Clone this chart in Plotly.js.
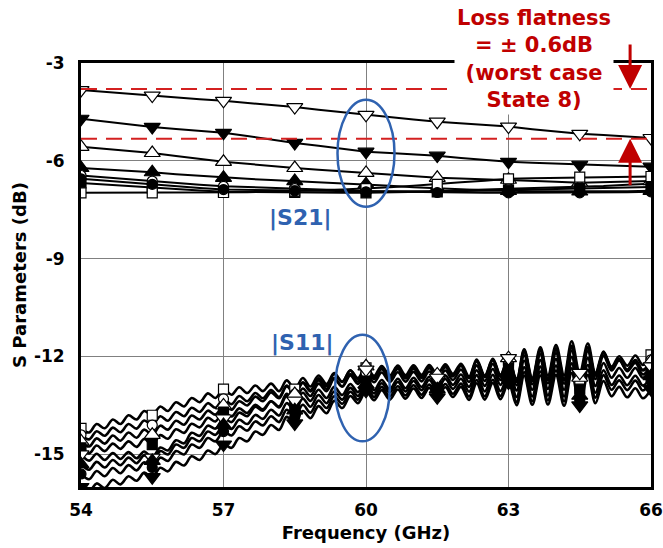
<!DOCTYPE html>
<html>
<head>
<meta charset="utf-8">
<script src="https://cdn.plot.ly/plotly-3.0.1.min.js"></script>
<style>html,body{margin:0;padding:0;background:#fff;}#chart{width:663px;height:548px;}</style>
</head>
<body>
<div id="chart"></div>
<script>
// ---------------- DATA ----------------
const freqS21 = [54,54.5,55,55.5,56,56.5,57,57.5,58,58.5,59,59.5,60,60.5,61,61.5,62,62.5,63,63.5,64,64.5,65,65.5,66];

const s21State1 = [-3.83,-3.89,-3.95,-4.00,-4.06,-4.11,-4.16,-4.22,-4.28,-4.35,-4.43,-4.51,-4.59,-4.67,-4.73,-4.80,-4.85,-4.91,-4.95,-5.03,-5.10,-5.17,-5.21,-5.26,-5.30];
const s21State2 = [-4.71,-4.80,-4.88,-4.96,-5.02,-5.08,-5.14,-5.24,-5.35,-5.45,-5.54,-5.63,-5.72,-5.76,-5.80,-5.84,-5.91,-5.97,-6.03,-6.06,-6.09,-6.12,-6.14,-6.16,-6.18];
const s21State3 = [-5.57,-5.63,-5.70,-5.76,-5.85,-5.94,-6.03,-6.09,-6.16,-6.22,-6.27,-6.32,-6.37,-6.42,-6.47,-6.52,-6.54,-6.56,-6.58,-6.61,-6.64,-6.67,-6.65,-6.64,-6.62];
const s21State4 = [-6.22,-6.26,-6.31,-6.35,-6.41,-6.46,-6.52,-6.55,-6.59,-6.62,-6.65,-6.69,-6.72,-6.76,-6.81,-6.85,-6.87,-6.90,-6.92,-6.93,-6.93,-6.94,-6.93,-6.93,-6.92];
const s21State5 = [-6.45,-6.51,-6.56,-6.62,-6.67,-6.73,-6.78,-6.80,-6.83,-6.85,-6.88,-6.90,-6.93,-6.93,-6.93,-6.93,-6.90,-6.88,-6.85,-6.83,-6.82,-6.80,-6.77,-6.73,-6.70];
const s21State6 = [-6.68,-6.73,-6.78,-6.83,-6.87,-6.91,-6.95,-6.96,-6.96,-6.97,-6.97,-6.98,-6.98,-6.97,-6.96,-6.95,-6.93,-6.92,-6.90,-6.88,-6.87,-6.85,-6.83,-6.82,-6.80];
const s21State7 = [-6.98,-6.98,-6.98,-6.98,-6.98,-6.97,-6.97,-6.96,-6.94,-6.93,-6.90,-6.88,-6.85,-6.81,-6.76,-6.72,-6.66,-6.61,-6.55,-6.53,-6.52,-6.50,-6.49,-6.49,-6.48];
const s21State8 = [-6.55,-6.61,-6.66,-6.72,-6.77,-6.83,-6.88,-6.89,-6.91,-6.92,-6.93,-6.94,-6.95,-6.96,-6.96,-6.97,-6.97,-6.98,-6.98,-6.98,-6.98,-6.98,-6.97,-6.96,-6.95];

const freqS11 = [54,54.17,54.33,54.5,54.67,54.83,
  55,55.17,55.33,55.5,55.67,55.83,
  56,56.17,56.33,56.5,56.67,56.83,
  57,57.17,57.33,57.5,57.67,57.83,
  58,58.17,58.33,58.5,58.67,58.83,
  59,59.17,59.33,59.5,59.67,59.83,
  60,60.17,60.33,60.5,60.67,60.83,
  61,61.17,61.33,61.5,61.67,61.83,
  62,62.17,62.33,62.5,62.67,62.83,
  63,63.17,63.33,63.5,63.67,63.83,
  64,64.17,64.33,64.5,64.67,64.83,
  65,65.17,65.33,65.5,65.67,65.83,66];

const s11StateA = [-14.20,-14.33,-14.07,-14.20,-13.93,-14.07,-13.80,-13.93,-13.67,-13.80,
  -13.53,-13.67,-13.40,-13.53,-13.27,-13.40,-13.13,-13.27,-13.00,
  -13.17,-12.94,-13.12,-12.89,-13.06,-12.83,-13.06,-12.73,-13.00,
  -12.66,-12.92,-12.58,-12.84,-12.51,-12.77,-12.43,-12.69,-12.35,
  -12.64,-12.34,-12.63,-12.33,-12.62,-12.32,-12.61,-12.31,-12.60,
  -12.29,-12.58,-12.27,-12.66,-12.14,-12.63,-12.12,-12.61,-12.10,
  -12.78,-11.87,-12.75,-11.83,-12.72,-11.80,-12.73,-11.72,-12.70,
  -11.74,-12.58,-11.87,-12.31,-11.99,-12.28,-11.97,-12.26,-11.95];
const s11StateB = [-14.40,-14.54,-14.29,-14.43,-14.18,-14.32,-14.07,-14.21,-13.96,-14.10,
  -13.83,-13.97,-13.70,-13.83,-13.57,-13.70,-13.43,-13.57,-13.30,
  -13.46,-13.21,-13.37,-13.12,-13.28,-13.03,-13.24,-12.89,-13.15,
  -12.81,-13.07,-12.73,-12.99,-12.66,-12.92,-12.58,-12.84,-12.50,
  -12.79,-12.49,-12.78,-12.48,-12.77,-12.47,-12.76,-12.46,-12.75,
  -12.43,-12.72,-12.40,-12.78,-12.27,-12.75,-12.23,-12.72,-12.20,
  -12.88,-11.97,-12.85,-11.93,-12.82,-11.90,-12.83,-11.82,-12.80,
  -11.84,-12.69,-11.98,-12.43,-12.12,-12.42,-12.11,-12.41,-12.10];
const s11StateC = [-14.60,-14.76,-14.51,-14.67,-14.42,-14.58,-14.33,-14.49,-14.24,-14.40,
  -14.12,-14.24,-13.97,-14.09,-13.81,-13.93,-13.66,-13.78,-13.50,
  -13.63,-13.37,-13.50,-13.23,-13.37,-13.10,-13.28,-12.92,-13.15,
  -12.79,-13.03,-12.67,-12.91,-12.54,-12.78,-12.42,-12.66,-12.30,
  -12.59,-12.29,-12.58,-12.28,-12.57,-12.27,-12.56,-12.26,-12.55,
  -12.24,-12.53,-12.22,-12.61,-12.09,-12.58,-12.07,-12.56,-12.05,
  -12.73,-11.82,-12.70,-11.78,-12.67,-11.75,-12.68,-11.67,-12.65,
  -11.72,-12.58,-11.90,-12.37,-12.08,-12.40,-12.12,-12.43,-12.15];
const s11StateD = [-14.80,-14.97,-14.73,-14.90,-14.67,-14.83,-14.60,-14.77,-14.53,-14.70,
  -14.41,-14.52,-14.23,-14.34,-14.06,-14.17,-13.88,-13.99,-13.70,
  -13.84,-13.59,-13.73,-13.48,-13.62,-13.37,-13.56,-13.21,-13.45,
  -13.11,-13.36,-13.02,-13.27,-12.93,-13.18,-12.84,-13.09,-12.75,
  -13.03,-12.72,-13.00,-12.68,-12.97,-12.65,-12.93,-12.62,-12.90,
  -12.58,-12.87,-12.55,-12.93,-12.42,-12.90,-12.38,-12.87,-12.35,
  -13.04,-12.13,-13.02,-12.11,-12.99,-12.08,-13.02,-12.01,-13.00,
  -12.05,-12.90,-12.20,-12.65,-12.35,-12.65,-12.35,-12.65,-12.35];
const s11StateE = [-15.00,-15.19,-14.98,-15.17,-14.96,-15.14,-14.93,-15.12,-14.91,-15.10,
  -14.79,-14.88,-14.57,-14.66,-14.34,-14.43,-14.12,-14.21,-13.90,
  -14.01,-13.72,-13.83,-13.54,-13.66,-13.37,-13.53,-13.14,-13.35,
  -12.98,-13.21,-12.83,-13.06,-12.69,-12.92,-12.54,-12.77,-12.40,
  -12.69,-12.39,-12.68,-12.38,-12.67,-12.37,-12.66,-12.36,-12.65,
  -12.33,-12.61,-12.28,-12.66,-12.14,-12.62,-12.09,-12.57,-12.05,
  -12.72,-11.78,-12.65,-11.72,-12.58,-11.65,-12.57,-11.53,-12.50,
  -11.60,-12.50,-11.85,-12.35,-12.10,-12.45,-12.20,-12.55,-12.30];
const s11StateF = [-15.30,-15.47,-15.23,-15.40,-15.17,-15.33,-15.10,-15.27,-15.03,-15.20,
  -14.90,-15.00,-14.70,-14.80,-14.50,-14.60,-14.30,-14.40,-14.10,
  -14.22,-13.94,-14.07,-13.79,-13.91,-13.63,-13.81,-13.43,-13.65,
  -13.29,-13.54,-13.18,-13.43,-13.07,-13.32,-12.96,-13.21,-12.85,
  -13.13,-12.82,-13.10,-12.78,-13.07,-12.75,-13.03,-12.72,-13.00,
  -12.69,-12.99,-12.68,-13.08,-12.57,-13.07,-12.56,-13.06,-12.55,
  -13.24,-12.33,-13.22,-12.31,-13.19,-12.28,-13.22,-12.21,-13.20,
  -12.26,-13.11,-12.42,-12.87,-12.58,-12.88,-12.59,-12.89,-12.60];
const s11StateG = [-15.60,-15.76,-15.51,-15.67,-15.42,-15.58,-15.33,-15.49,-15.24,-15.40,
  -15.10,-15.20,-14.90,-15.00,-14.70,-14.80,-14.50,-14.60,-14.30,
  -14.42,-14.14,-14.27,-13.99,-14.11,-13.83,-14.01,-13.63,-13.85,
  -13.48,-13.72,-13.35,-13.58,-13.22,-13.45,-13.08,-13.32,-12.95,
  -13.24,-12.93,-13.22,-12.91,-13.19,-12.88,-13.17,-12.86,-13.15,
  -12.84,-13.14,-12.83,-13.23,-12.72,-13.22,-12.71,-13.21,-12.70,
  -13.39,-12.48,-13.37,-12.46,-13.34,-12.43,-13.37,-12.36,-13.35,
  -12.41,-13.26,-12.57,-13.02,-12.73,-13.03,-12.74,-13.04,-12.75];
const s11StateH = [-16.00,-16.14,-15.89,-16.03,-15.78,-15.92,-15.67,-15.81,-15.56,-15.70,
  -15.41,-15.52,-15.23,-15.34,-15.06,-15.17,-14.88,-14.99,-14.70,
  -14.80,-14.50,-14.60,-14.30,-14.40,-14.10,-14.25,-13.85,-14.05,
  -13.67,-13.89,-13.52,-13.74,-13.36,-13.58,-13.21,-13.43,-13.05,
  -13.34,-13.03,-13.32,-13.01,-13.29,-12.98,-13.27,-12.96,-13.25,
  -12.94,-13.24,-12.93,-13.33,-12.82,-13.32,-12.81,-13.31,-12.80,
  -13.49,-12.59,-13.48,-12.58,-13.47,-12.57,-13.51,-12.51,-13.50,
  -12.57,-13.43,-12.75,-13.22,-12.93,-13.25,-12.97,-13.28,-13.00];

const xTicks = [54,57,60,63,66];
const yTicks = [-3,-6,-9,-12,-15];
const flatnessLevels = [-3.80,-5.32];
const annotationText = 'Loss flatness<br>= ± 0.6dB<br>(worst case<br>State 8)';

// ---------------- STYLES ----------------
const s21Series = [s21State1,s21State2,s21State3,s21State4,s21State5,s21State6,s21State7,s21State8];
const s11Series = [s11StateA,s11StateB,s11StateC,s11StateD,s11StateE,s11StateF,s11StateG,s11StateH];
const s21Sym  = ['triangle-down','triangle-down','triangle-up','triangle-up','circle','square','square','circle'];
const s21Fill = ['#fff','#000','#fff','#000','#fff','#000','#fff','#000'];
const s11Sym  = ['square','circle','triangle-up','square','triangle-down','triangle-up','circle','triangle-down'];
const s11Fill = ['#fff','#fff','#fff','#000','#fff','#000','#000','#000'];
const symSize = s => (s.startsWith('triangle') ? 14 : 10);

const traces = [];
s11Series.forEach(y => traces.push({x: freqS11, y: y, mode: 'lines', type: 'scatter',
  line: {color: '#000', width: 2.6, shape: 'spline', smoothing: 1}, hoverinfo: 'skip', showlegend: false}));
s21Series.forEach(y => traces.push({x: freqS21, y: y, mode: 'lines', type: 'scatter',
  line: {color: '#000', width: 2}, hoverinfo: 'skip', showlegend: false}));
s11Series.forEach((y, k) => {
  const idx = freqS11.map((_, i) => i).filter(i => i % 9 === 0);
  traces.push({x: idx.map(i => freqS11[i]), y: idx.map(i => y[i]), mode: 'markers', type: 'scatter',
    marker: {symbol: s11Sym[k], size: symSize(s11Sym[k]), color: s11Fill[k], line: {color: '#000', width: 1.2}},
    cliponaxis: true, showlegend: false, hoverinfo: 'skip'});
});
s21Series.forEach((y, k) => {
  const idx = freqS21.map((_, i) => i).filter(i => i % 3 === 0);
  traces.push({x: idx.map(i => freqS21[i]), y: idx.map(i => y[i]), mode: 'markers', type: 'scatter',
    marker: {symbol: s21Sym[k], size: symSize(s21Sym[k]), color: s21Fill[k], line: {color: '#000', width: 1.2}},
    cliponaxis: true, showlegend: false, hoverinfo: 'skip'});
});

const red = '#C00000';
const blue = '#2F62B0';
const font = 'DejaVu Sans, Verdana, sans-serif';

const layout = {
  width: 663, height: 548,
  margin: {l: 81, r: 12, t: 63, b: 61},
  paper_bgcolor: '#fff', plot_bgcolor: '#fff',
  showlegend: false,
  xaxis: {
    range: [54, 66], tickvals: xTicks, ticktext: xTicks.map(String),
    showgrid: true, gridcolor: '#808080', gridwidth: 1, zeroline: false,
    showline: true, linecolor: '#000', linewidth: 3, mirror: true, ticks: '',
    ticklabelstandoff: 6,
    tickfont: {family: font, size: 17, color: '#000', weight: 'bold'},
    title: {text: 'Frequency (GHz)', font: {family: font, size: 18, color: '#000', weight: 'bold'}, standoff: 7}
  },
  yaxis: {
    range: [-16, -3], tickvals: yTicks, ticktext: yTicks.map(String),
    showgrid: true, gridcolor: '#808080', gridwidth: 1, zeroline: false,
    showline: true, linecolor: '#000', linewidth: 3, mirror: true, ticks: '',
    ticklabelstandoff: 10,
    tickfont: {family: font, size: 17, color: '#000', weight: 'bold'},
    title: {text: 'S Parameters (dB)', font: {family: font, size: 18, color: '#000', weight: 'bold'}, standoff: 3}
  },
  shapes: [
    ...flatnessLevels.map(v => ({type: 'line', xref: 'x', yref: 'y', x0: 54, x1: 66, y0: v, y1: v,
      line: {color: '#D42020', width: 2, dash: '16px,9px'}, layer: 'above'})),
    {type: 'circle', xref: 'x', yref: 'y', x0: 59.4, x1: 60.6, y0: -7.41, y1: -4.13, line: {color: blue, width: 2.5}, layer: 'above'},
    {type: 'circle', xref: 'x', yref: 'y', x0: 59.35, x1: 60.5, y0: -14.6, y1: -11.33, line: {color: blue, width: 2.5}, layer: 'above'}
  ],
  annotations: [
    {xref: 'paper', yref: 'paper', x: 0.795, y: 1.0106, xanchor: 'center', yanchor: 'middle',
      text: annotationText, showarrow: false, bgcolor: '#fff', borderpad: 2,
      font: {family: font, size: 21, color: red, weight: 'bold'}},
    {xref: 'x', yref: 'y', x: 65.56, y: flatnessLevels[0], ax: 0, ay: -46, text: '', showarrow: true,
      arrowhead: 2, arrowsize: 1.6, arrowwidth: 3, arrowcolor: red, standoff: 0},
    {xref: 'x', yref: 'y', x: 65.56, y: flatnessLevels[1], ax: 0, ay: 48, text: '', showarrow: true,
      arrowhead: 2, arrowsize: 1.6, arrowwidth: 3, arrowcolor: red, standoff: 0},
    {xref: 'x', yref: 'y', x: 58.63, y: -7.75, text: '|S21|', showarrow: false,
      font: {family: font, size: 22, color: blue, weight: 'bold'}},
    {xref: 'x', yref: 'y', x: 58.67, y: -11.58, text: '|S11|', showarrow: false,
      font: {family: font, size: 22, color: blue, weight: 'bold'}}
  ]
};

Plotly.newPlot('chart', traces, layout, {staticPlot: true, displayModeBar: false});
</script>
</body>
</html>
